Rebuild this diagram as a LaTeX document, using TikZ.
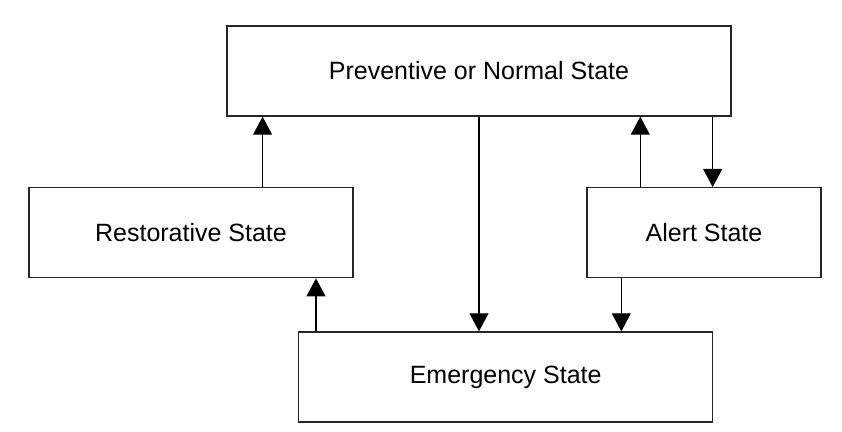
\documentclass[tikz,border=0pt]{standalone}
\usepackage{fontspec}
\setmainfont{Liberation Sans}
\usetikzlibrary{arrows.meta, calc}

\tikzset{
    statebox/.style={draw=black!85, line width=0.7pt, minimum height=45pt,
        inner sep=0pt, font=\fontsize{12.5}{15}\selectfont},
    arr/.style={line width=0.55pt, -{Triangle[length=9pt, width=9.5pt]}}
}

\begin{document}
\begin{tikzpicture}[x=0.5pt, y=-0.5pt]
    % 1. Khung hình
    \useasboundingbox (0, 0) rectangle (842, 432);

    % 2. Các trạng thái
    \node[statebox, minimum width=252pt] (normal) at (479, 71) {Preventive or Normal State};
    \node[statebox, minimum width=162pt] (restor) at (191, 232.7) {Restorative State};
    \node[statebox, minimum width=117pt] (alert) at (704, 232.7) {Alert State};
    \node[statebox, minimum width=207pt] (emerg) at (505.7, 377) {Emergency State};

    % 3. Các mũi tên chuyển trạng thái
    % Restorative -> Normal
    \draw[arr] ($(restor.north west)+(234.3, 0)$) coordinate (r1) -- (r1 |- normal.south);
    % Normal -> Emergency
    \draw[arr] (normal.south) -- (normal.south |- emerg.north);
    % Alert -> Normal
    \draw[arr] ($(alert.north west)+(54, 0)$) coordinate (a1) -- (a1 |- normal.south);
    % Normal -> Alert
    \draw[arr] ($(normal.south east)+(-19, 0)$) coordinate (n1) -- (n1 |- alert.north);
    % Emergency -> Restorative
    \draw[arr] ($(emerg.north west)+(18, 0)$) coordinate (e1) -- (e1 |- restor.south);
    % Alert -> Emergency
    \draw[arr] ($(alert.south west)+(35, 0)$) coordinate (a2) -- (a2 |- emerg.north);
\end{tikzpicture}
\end{document}
